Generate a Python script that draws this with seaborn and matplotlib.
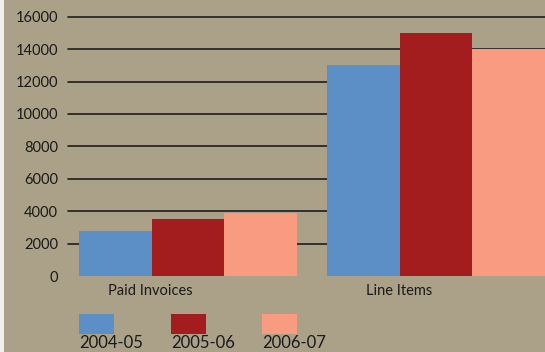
import numpy as np
import pandas as pd
import seaborn as sns
import matplotlib.pyplot as plt
from matplotlib.patches import Rectangle

categories = ["Paid Invoices", "Line Items"]
seasons = ["2004-05", "2005-06", "2006-07"]
values_2004_05 = [2800, 13000]
values_2005_06 = [3500, 15000]
values_2006_07 = [3900, 14000]
yticks = [0, 2000, 4000, 6000, 8000, 10000, 12000, 14000, 16000]

colors = ["#5B8FC6", "#A31C1E", "#F99B80"]
bg = "#ABA189"

df = pd.DataFrame({
    "category": categories * 3,
    "season": [s for s in seasons for _ in categories],
    "value": values_2004_05 + values_2005_06 + values_2006_07,
})

sns.set_theme(style="white")
plt.rcParams["font.family"] = ["Lato", "DejaVu Sans"]

fig = plt.figure(figsize=(5.45, 3.52), dpi=100)
fig.patch.set_facecolor(bg)
# thin white margin on the left edge
fig.add_artist(Rectangle((0, 0), 4 / 545, 1, transform=fig.transFigure,
                         facecolor="#F2F0EA", edgecolor="none"))

ax = fig.add_axes([68 / 545, 72 / 352, 1 - 68 / 545, (280 - 16.7) / 352])
ax.set_facecolor(bg)

sns.barplot(data=df, x="category", y="value", hue="season",
            hue_order=seasons, order=categories, palette=colors,
            width=0.88, gap=0, saturation=1, linewidth=0,
            legend=False, ax=ax, zorder=2)

ax.set_xlim(-0.484, 1.44)
ax.set_ylim(-240, 16000)
ax.set_yticks(yticks)
ax.set_yticklabels([str(t) for t in yticks], fontsize=10.5, color="#1A1A1A")
ax.tick_params(axis="y", length=0, pad=7)
ax.tick_params(axis="x", length=0, pad=3)
ax.set_xticks(np.arange(len(categories)) - 0.15)
ax.set_xticklabels(categories, fontsize=10.5, color="#1A1A1A")
ax.set_xlabel("")
ax.set_ylabel("")

for t in yticks[1:]:
    ax.axhline(t, color="#1E1E1E", linewidth=1.2, zorder=1, clip_on=False)

for s in ax.spines.values():
    s.set_visible(False)

# legend: swatches with labels underneath
patch_x = [79, 171, 262]
for x0, c, lab in zip(patch_x, colors, seasons):
    fig.add_artist(Rectangle((x0 / 545, (352 - 334) / 352), 35 / 545, 20 / 352,
                             transform=fig.transFigure, facecolor=c,
                             edgecolor="none"))
    fig.text(x0 / 545, (352 - 348) / 352, lab, fontsize=12,
             color="#1A1A1A", ha="left", va="baseline")

fig.savefig("out.png", dpi=100, facecolor=bg)
